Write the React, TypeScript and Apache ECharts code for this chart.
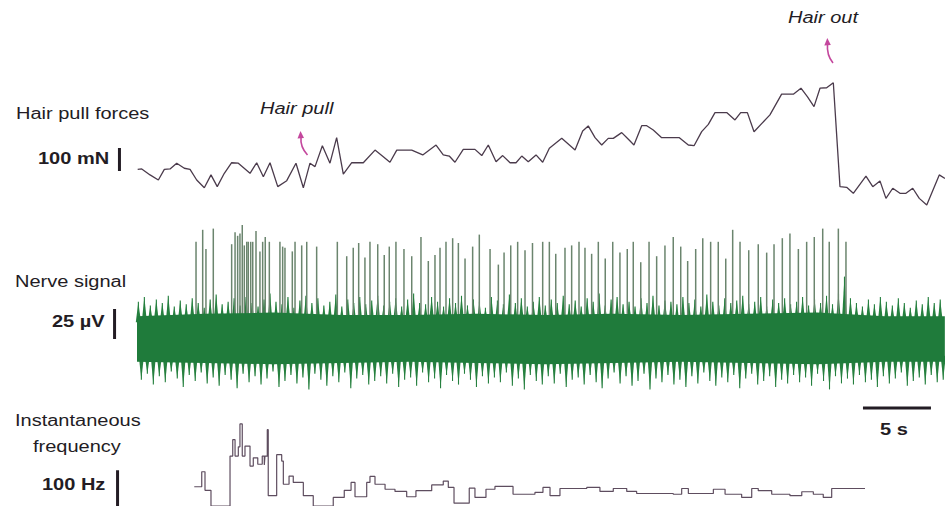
import React, { useEffect, useRef } from "react";
import * as echarts from "echarts";

// ---- Hair pull force trace (time s, force mN) ----
const forceT = [0.05,0.35,0.96,1.57,2.01,2.43,2.92,3.48,3.90,4.39,4.95,5.44,5.90,6.42,6.96,7.45,8.31,8.80,9.29,9.78,10.35,11.01,11.69,12.23,12.72,13.09,13.63,14.19,14.68,15.17,15.79,16.64,17.50,18.11,18.60,19.10,20.20,21.01,21.99,22.52,22.96,23.38,23.99,24.85,25.35,25.83,26.40,26.89,27.43,27.87,28.29,28.77,29.34,29.83,30.32,31.23,32.21,32.77,33.18,33.68,34.17,34.65,35.02,35.64,36.13,36.54,37.11,37.48,37.96,38.58,39.88,40.54,40.96,41.52,42.01,42.50,43.36,43.97,44.39,44.88,45.37,46.54,47.40,48.26,48.82,49.29,49.78,50.22,50.71,51.20,51.69,52.18,52.67,53.60,54.10,54.63,55.07,55.57,56.10,56.54,57.04,57.52,58.07,58.99,59.41];
const forceMN = [220,222,196,174,220,222,247,225,220,174,140,196,145,203,249,247,203,249,188,249,145,171,247,140,247,232,323,247,358,199,249,249,304,275,251,304,304,283,326,283,278,251,307,307,280,326,253,280,249,249,278,253,283,251,312,355,304,387,409,358,326,355,355,380,351,326,410,410,391,358,358,326,323,384,416,467,467,435,467,467,384,457,547,547,573,536,493,573,575,597,145,142,116,191,145,170,94,138,116,116,138,94,65,196,181];

// ---- Nerve signal: spikes (time s, peak µV) ----
const spikeT = [4.34,4.83,5.07,5.61,6.96,7.21,7.40,7.57,7.74,7.89,8.07,8.18,8.36,8.51,8.75,9.04,9.24,9.43,9.73,10.51,10.71,10.88,11.42,11.62,12.11,12.48,13.21,14.73,15.42,15.90,16.30,16.76,17.13,17.70,18.18,18.55,19.04,19.63,20.20,20.88,21.42,21.91,22.28,22.72,23.21,23.63,24.12,24.68,25.17,25.96,26.57,26.99,27.48,27.99,28.53,29.08,29.83,30.32,30.79,31.47,31.96,32.50,32.94,33.43,33.92,34.43,34.98,35.51,36.05,36.49,37.04,37.65,38.21,38.82,39.43,39.98,40.49,41.08,41.60,42.18,42.74,43.29,43.80,44.34,44.98,45.68,46.30,46.84,47.45,48.01,48.63,49.24,49.80,50.42,50.90,51.57,52.13];
const spikeUV = [81,91,75,92,79,89,86,88,95,78,81,81,81,81,90,73,81,85,81,81,77,76,73,81,78,81,77,81,69,76,80,68,81,79,70,77,81,75,69,85,65,70,76,81,84,80,67,77,87,75,62,72,78,81,74,80,81,81,71,76,78,81,76,71,81,67,81,72,75,81,64,81,69,78,85,77,65,75,84,81,81,67,91,81,74,79,72,79,84,88,75,81,85,92,81,92,81];

// ---- Nerve signal: noise envelope per 0.44 s bin (µV) ----
const noiseStart = 0.1;
const noiseBin = 0.44;
const noiseUpper = [31,35,28,33,30,36,27,32,29,34,30,26,33,37,29,31,34,28,35,30,27,33,38,31,29,35,26,32,36,30,34,28,31,37,27,33,30,35,29,32,36,28,31,34,27,33,38,30,29,35,31,27,34,30,36,28,33,31,26,35,32,29,37,30,34,27,31,35,28,33,30,36,29,32,27,34,31,38,28,33,35,29,31,27,34,30,36,28,32,31,29,35,30,33,27,37,31,28,34,30,32,36,29,31,35,27,33,30,34,29,31,35,28,33,30,36,29,38,52,34,30,27,33,29,35,31,28,34,30,26,32,29,35,30,33];
const noiseLower = [-34,-29,-38,-31,-36,-27,-33,-40,-30,-35,-28,-37,-32,-39,-30,-34,-41,-29,-36,-31,-38,-33,-27,-40,-35,-30,-37,-32,-42,-29,-34,-39,-31,-36,-28,-41,-33,-30,-38,-35,-31,-37,-29,-40,-34,-32,-39,-28,-36,-33,-41,-30,-35,-38,-29,-34,-40,-31,-37,-32,-36,-28,-39,-33,-42,-30,-35,-38,-31,-37,-29,-40,-34,-32,-38,-30,-36,-41,-33,-28,-37,-31,-39,-35,-29,-42,-33,-36,-30,-38,-34,-40,-31,-37,-28,-35,-39,-32,-36,-30,-41,-33,-29,-38,-35,-31,-40,-34,-37,-30,-36,-32,-39,-29,-35,-42,-31,-37,-33,-38,-30,-36,-34,-40,-31,-37,-33,-28,-39,-35,-32,-38,-30,-36,-34];
const coreT = [0,5,10,15,20,25,30,35,40,45,50,55,59.4];
const coreHigh = [19,21,22,20,20,21,20,21,20,21,22,19,19];
const coreLow = [-19,-20,-21,-20,-19,-20,-21,-20,-19,-20,-21,-19,-19];

// ---- Instantaneous frequency (segment start s, Hz) ----
const freqT = [4.21,4.76,5.00,5.44,6.84,7.04,7.21,7.45,7.57,7.74,7.94,8.31,8.55,8.88,9.21,9.36,9.41,9.58,9.65,10.27,10.64,10.76,11.18,11.49,12.23,12.96,14.43,15.24,15.74,16.03,16.89,17.13,17.50,18.24,18.97,19.83,20.51,21.67,22.52,22.89,23.31,24.43,24.85,25.66,26.32,27.65,29.26,29.85,30.37,31.10,33.07,34.04,35.02,36.01,36.74,39.43,40.05,40.54,42.38,43.24,44.46,45.20,45.68,46.67,48.01,48.88,49.73,50.46,51.08,53.53];
const freqHz = [54,96,44,0,140,186,140,166,230,140,168,112,135,117,140,115,140,214,29,144,126,61,84,66,29,0,24,44,66,26,66,83,61,47,41,26,43,59,70,52,8,50,24,47,55,33,38,52,29,49,52,41,49,41,35,33,49,35,47,33,24,49,43,33,29,40,33,24,49,49];

// ---- Scale bars ----
const forceBar = { t: -1.29, from: 213, to: 313 }; // 100 mN
const nerveBar = { t: -1.65, from: 0, to: 25 }; // 25 µV
const freqBar = { t: -1.43, from: 0, to: 100 }; // 100 Hz
const timeBar = { from: 53.38, to: 58.38, level: 275 }; // 5 s

const FONT = "'Liberation Sans', Arial, Helvetica, sans-serif";
const INK = "#231c24";
const MAGENTA = "#c4479d";

function label(text: string, x: number, y: number, opts: any = {}) {
  return {
    type: "text",
    x,
    y,
    scaleX: 1.25,
    silent: true,
    style: {
      text,
      fill: INK,
      fontFamily: FONT,
      fontSize: 16,
      fontWeight: opts.bold ? "bold" : "normal",
      fontStyle: opts.italic ? "italic" : "normal",
      align: "left",
      verticalAlign: "middle",
    },
  };
}

export default function App() {
  const ref = useRef<HTMLDivElement>(null);
  useEffect(() => {
    const chart = echarts.init(ref.current!, null, { renderer: "svg" });
    const xMin = -137 / 13.6;
    const xMax = 808 / 13.6;
    const xAxis = [0, 1, 2].map((i) => ({
      type: "value",
      gridIndex: i,
      min: xMin,
      max: xMax,
      show: false,
    }));
    const yAxis = [
      { type: "value", gridIndex: 0, min: 0, max: 700, show: false },
      { type: "value", gridIndex: 1, min: -50, max: 100, show: false },
      { type: "value", gridIndex: 2, min: 0, max: 300, show: false },
    ];
    const grid = [
      { left: 0, width: 945, top: 59, height: 161 },
      { left: 0, width: 945, top: 219, height: 180 },
      { left: 0, width: 945, top: 399, height: 108 },
    ];

    const vline = (color: string, width: number) => (params: any, api: any) => {
      const t = api.value(0);
      const a = api.coord([t, api.value(1)]);
      const b = api.coord([t, api.value(2)]);
      return {
        type: "line",
        shape: { x1: a[0], y1: a[1], x2: b[0], y2: b[1] },
        style: { stroke: color, lineWidth: width },
      };
    };

    // noise "grass": tapered blade from inside the core to the envelope value
    const blade = (color: string) => (params: any, api: any) => {
      const t = api.value(0);
      const a = api.coord([t, api.value(1)]);
      const b = api.coord([t, api.value(2)]);
      return {
        type: "group",
        children: [
          {
            type: "polygon",
            shape: { points: [[a[0] - 2.6, a[1]], [a[0] + 2.6, a[1]], [b[0], b[1]]] },
            style: { fill: color },
          },
          {
            type: "line",
            shape: { x1: a[0], y1: a[1], x2: b[0], y2: b[1] },
            style: { stroke: color, lineWidth: 1.1 },
          },
        ],
      };
    };

    const upperHairs = noiseUpper.map((v, i) => [noiseStart + i * noiseBin, 14, v]);
    const lowerHairs = noiseLower.map((v, i) => [noiseStart + i * noiseBin + noiseBin / 2, -14, v]);
    const spikes = spikeT.map((t, i) => [t, 0, spikeUV[i]]);

    const bar = (xi: number, data: number[][]) => ({
      type: "line",
      xAxisIndex: xi,
      yAxisIndex: xi,
      data,
      symbol: "none",
      silent: true,
      lineStyle: { color: INK, width: 3 },
    });

    const GREEN = "#1f7b3b";

    const option: any = {
      animation: false,
      backgroundColor: "#ffffff",
      grid,
      xAxis,
      yAxis,
      series: [
        {
          type: "line",
          name: "Hair pull forces",
          xAxisIndex: 0,
          yAxisIndex: 0,
          data: forceT.map((t, i) => [t, forceMN[i]]),
          symbol: "none",
          lineStyle: { color: "#4b3b4c", width: 1.3 },
        },
        {
          type: "line",
          xAxisIndex: 1,
          yAxisIndex: 1,
          data: coreT.map((t, i) => [t, coreHigh[i]]),
          symbol: "none",
          lineStyle: { width: 0 },
          areaStyle: { color: GREEN, opacity: 1, origin: 0 },
        },
        {
          type: "line",
          xAxisIndex: 1,
          yAxisIndex: 1,
          data: coreT.map((t, i) => [t, coreLow[i]]),
          symbol: "none",
          lineStyle: { width: 0 },
          areaStyle: { color: GREEN, opacity: 1, origin: 0 },
        },
        {
          type: "custom",
          xAxisIndex: 1,
          yAxisIndex: 1,
          data: upperHairs,
          encode: { x: 0, y: [1, 2] },
          renderItem: blade("#26803f"),
        },
        {
          type: "custom",
          xAxisIndex: 1,
          yAxisIndex: 1,
          data: lowerHairs,
          encode: { x: 0, y: [1, 2] },
          renderItem: blade("#26803f"),
        },
        {
          type: "custom",
          name: "Nerve signal",
          xAxisIndex: 1,
          yAxisIndex: 1,
          data: spikes,
          encode: { x: 0, y: [1, 2] },
          renderItem: vline("#6b856e", 1.5),
        },
        {
          type: "line",
          name: "Instantaneous frequency",
          xAxisIndex: 2,
          yAxisIndex: 2,
          data: freqT.map((t, i) => [t, freqHz[i]]),
          step: "end",
          symbol: "none",
          lineStyle: { color: "#5e4d5f", width: 1.2 },
        },
        bar(0, [[forceBar.t, forceBar.from], [forceBar.t, forceBar.to]]),
        bar(1, [[nerveBar.t, nerveBar.from], [nerveBar.t, nerveBar.to]]),
        bar(2, [[freqBar.t, freqBar.from], [freqBar.t, freqBar.to]]),
        bar(2, [[timeBar.from, timeBar.level], [timeBar.to, timeBar.level]]),
      ],
      graphic: [
        label("Hair pull forces", 16, 114),
        label("100 mN", 38, 159, { bold: true }),
        label("Hair pull", 260, 109, { italic: true }),
        label("Hair out", 788, 18, { italic: true }),
        label("Nerve signal", 15, 282),
        label("25 µV", 52, 322, { bold: true }),
        label("Instantaneous", 15, 421),
        label("frequency", 33, 447),
        label("100 Hz", 42, 485, { bold: true }),
        label("5 s", 880, 430, { bold: true }),
        {
          type: "bezierCurve",
          silent: true,
          shape: { x1: 307.5, y1: 155, cpx1: 300, cpy1: 147, x2: 301, y2: 137 },
          style: { stroke: MAGENTA, lineWidth: 1.6, fill: "none" },
        },
        {
          type: "polygon",
          silent: true,
          shape: { points: [[300.5, 131], [297.5, 138.5], [304, 138]] },
          style: { fill: MAGENTA },
        },
        {
          type: "bezierCurve",
          silent: true,
          shape: { x1: 833, y1: 63, cpx1: 826.5, cpy1: 55, x2: 827.5, y2: 44 },
          style: { stroke: MAGENTA, lineWidth: 1.6, fill: "none" },
        },
        {
          type: "polygon",
          silent: true,
          shape: { points: [[827.3, 38], [824.3, 45.5], [830.8, 45]] },
          style: { fill: MAGENTA },
        },
      ],
    };
    chart.setOption(option);
    return () => chart.dispose();
  }, []);
  return (
    <div
      ref={ref}
      style={{ position: "fixed", left: 0, top: 0, width: 945, height: 506, background: "#fff" }}
    />
  );
}
